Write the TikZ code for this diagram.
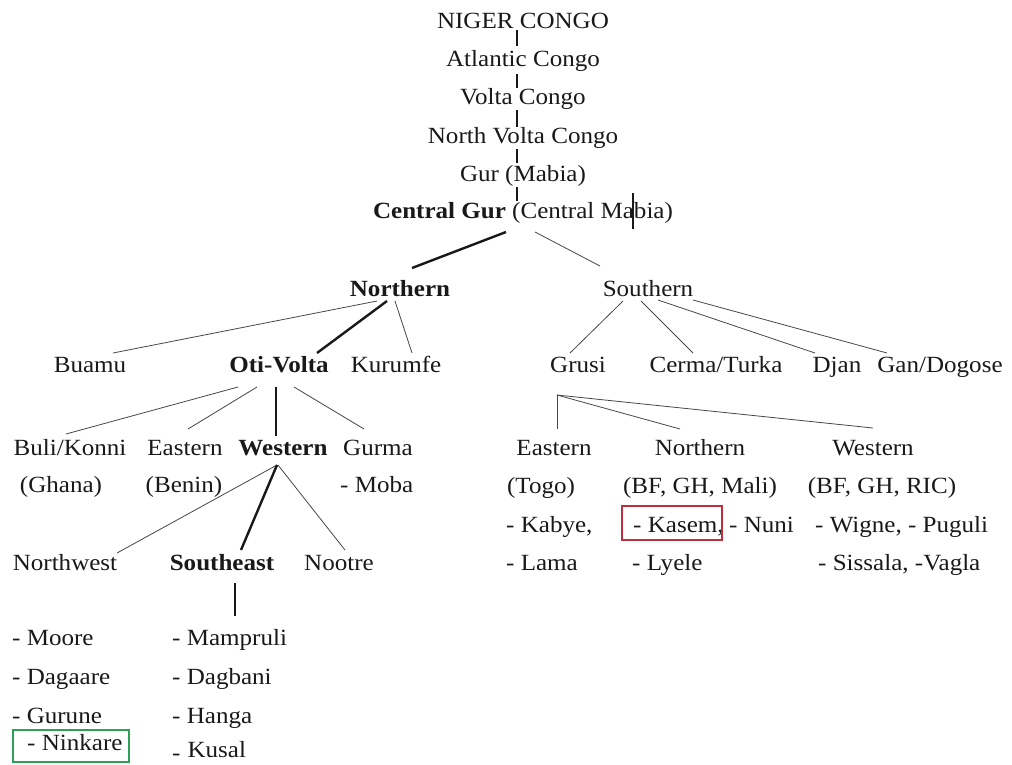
\documentclass[tikz,border=0pt]{standalone}
\usepackage{fontspec}
\setmainfont{Liberation Serif}[FakeStretch=1.08]
\usetikzlibrary{calc}
\definecolor{boxred}{RGB}{192,48,60}
\definecolor{boxgreen}{RGB}{48,160,88}
\definecolor{ink}{RGB}{25,25,25}

\begin{document}
\begin{tikzpicture}[x=1pt,y=-1pt,
  lbl/.style={anchor=base,inner sep=0pt,text=ink,font=\fontsize{23.2}{27}\selectfont},
  lst/.style={lbl,anchor=base west},
  br/.style={draw=ink!80,line width=0.8pt},
  main/.style={draw=ink,line width=2.4pt}]
  \useasboundingbox[fill=white] (0,0) rectangle (1012,764);

  \node[lbl] (ng)   at (523,28)  {NIGER CONGO};
  \node[lbl] (ac)   at (523,66)  {Atlantic Congo};
  \node[lbl] (vc)   at (523,104) {Volta Congo};
  \node[lbl] (nvc)  at (523,143) {North Volta Congo};
  \node[lbl] (gur)  at (523,181) {Gur (Mabia)};
  \node[lbl] (cgur) at (523,218) {\textbf{Central Gur} (Central Mabia)};
  \draw[main,line width=1.8pt] ($(ng.base)+(-6,2)$) -- ($(ac.base)+(-6,-20)$);
  \draw[main,line width=1.8pt] ($(ac.base)+(-6,8)$) -- ($(vc.base)+(-6,-16)$);
  \draw[main,line width=1.8pt] ($(vc.base)+(-6,6)$) -- ($(nvc.base)+(-6,-16)$);
  \draw[main,line width=1.8pt] ($(nvc.base)+(-6,6)$) -- ($(gur.base)+(-6,-18)$);
  \draw[main,line width=1.8pt] ($(gur.base)+(-6,6)$) -- ($(cgur.base)+(-6,-17)$);
  \draw[ink,line width=1.4pt] (633,193) -- (633,229);

  \node[lbl] (nor) at (400,296) {\textbf{Northern}};
  \node[lbl] (sou) at (648,296) {Southern};
  \draw[main] ($(cgur.base)+(-17,14)$) -- ($(nor.base)+(12,-28)$);
  \draw[br] ($(cgur.base)+(12,14)$) -- ($(sou.base)+(-48,-30)$);

  \node[lbl] (buamu)   at (90,372)  {Buamu};
  \node[lbl] (oti)     at (279,372) {\textbf{Oti-Volta}};
  \node[lbl] (kurumfe) at (396,372) {Kurumfe};
  \node[lbl] (grusi)   at (578,372) {Grusi};
  \node[lbl] (cerma)   at (716,372) {Cerma/Turka};
  \node[lbl] (djan)    at (837,372) {Djan};
  \node[lbl] (gan)     at (940,372) {Gan/Dogose};
  \draw[br] ($(nor.base)+(-23,5)$) -- ($(buamu.base)+(23,-19)$);
  \draw[main] ($(nor.base)+(-13,5)$) -- ($(oti.base)+(38,-19)$);
  \draw[br] ($(nor.base)+(-5,5)$) -- ($(kurumfe.base)+(16,-19)$);
  \draw[br] ($(sou.base)+(-25,5)$) -- ($(grusi.base)+(-8,-19)$);
  \draw[br] ($(sou.base)+(-7,5)$) -- ($(cerma.base)+(-23,-19)$);
  \draw[br] ($(sou.base)+(10,4)$) -- ($(djan.base)+(-22,-19)$);
  \draw[br] ($(sou.base)+(45,4)$) -- ($(gan.base)+(-53,-19)$);

  \node[lbl] (buli)    at (70,455)  {Buli/Konni};
  \node[lbl] (eastern) at (185,455) {Eastern};
  \node[lbl] (western) at (283,455) {\textbf{Western}};
  \node[lbl] (gurma)   at (378,455) {Gurma};
  \node[lbl] (ghana)   at (61,492)  {(Ghana)};
  \node[lbl] (benin)   at (184,492) {(Benin)};
  \node[lst] (moba)    at (340,492) {- Moba};
  \draw[br] ($(oti.base)+(-41,15)$) -- ($(buli.base)+(-4,-21)$);
  \draw[br] ($(oti.base)+(-22,15)$) -- ($(eastern.base)+(3,-26)$);
  \draw[main] ($(oti.base)+(-3,15)$) -- ($(western.base)+(-7,-19)$);
  \draw[br] ($(oti.base)+(15,15)$) -- ($(gurma.base)+(-14,-26)$);

  \node[lbl] (nw)     at (65,570)  {Northwest};
  \node[lbl] (se)     at (222,570) {\textbf{Southeast}};
  \node[lbl] (nootre) at (339,570) {Nootre};
  \draw[br] ($(western.base)+(-6,10)$) -- ($(nw.base)+(52,-17)$);
  \draw[main] ($(western.base)+(-6,10)$) -- ($(se.base)+(19,-20)$);
  \draw[br] ($(western.base)+(-5,10)$) -- ($(nootre.base)+(6,-20)$);

  \node[lst] (moore)   at (12,645) {- Moore};
  \node[lst] (dagaare) at (12,684) {- Dagaare};
  \node[lst] (gurune)  at (12,723) {- Gurune};
  \node[lst] (ninkare) at (27,750) {- Ninkare};
  \draw[boxgreen,line width=2pt] ($(ninkare.base west)+(-14,-20)$) rectangle ($(ninkare.base east)+(6,12)$);
  \node[lst] (mamp)    at (172,645) {- Mampruli};
  \node[lst] (dagbani) at (172,684) {- Dagbani};
  \node[lst] (hanga)   at (172,723) {- Hanga};
  \node[lst] (kusal)   at (172,757) {\raisebox{-3pt}{-}\hspace{7pt}Kusal};
  \draw[main] ($(se.base)+(13,13)$) -- ($(mamp.base west)+(63,-29)$);

  \coordinate (fork) at ($(grusi.base)+(-21,23)$);
  \node[lbl] (geast)  at (554,455) {Eastern};
  \node[lbl] (gnorth) at (700,455) {Northern};
  \node[lbl] (gwest)  at (873,455) {Western};
  \draw[br] (fork) -- ($(geast.base)+(3,-26)$);
  \draw[br] (fork) -- ($(gnorth.base)+(-20,-26)$);
  \draw[br] (fork) -- ($(gwest.base)+(0,-27)$);
  \node[lbl] (togo) at (541,493) {(Togo)};
  \node[lbl] (bfgm) at (700,493) {(BF, GH, Mali)};
  \node[lbl] (bfgr) at (882,493) {(BF, GH, RIC)};

  \node[lst] (kabye)   at (506,532) {- Kabye,};
  \node[lst] (lama)    at (506,570) {- Lama};
  \node[lst] (kasem)   at (633,532) {- Kasem,};
  \draw[boxred,line width=2pt] ($(kasem.base west)+(-11,-26)$) rectangle ($(kasem.base east)+(-2,8)$);
  \node[lst] (nuni)    at (729,532) {- Nuni};
  \node[lst] (lyele)   at (632,570) {- Lyele};
  \node[lst] (wigne)   at (815,532) {- Wigne, - Puguli};
  \node[lst] (sissala) at (818,570) {- Sissala, -Vagla};
\end{tikzpicture}
\end{document}
